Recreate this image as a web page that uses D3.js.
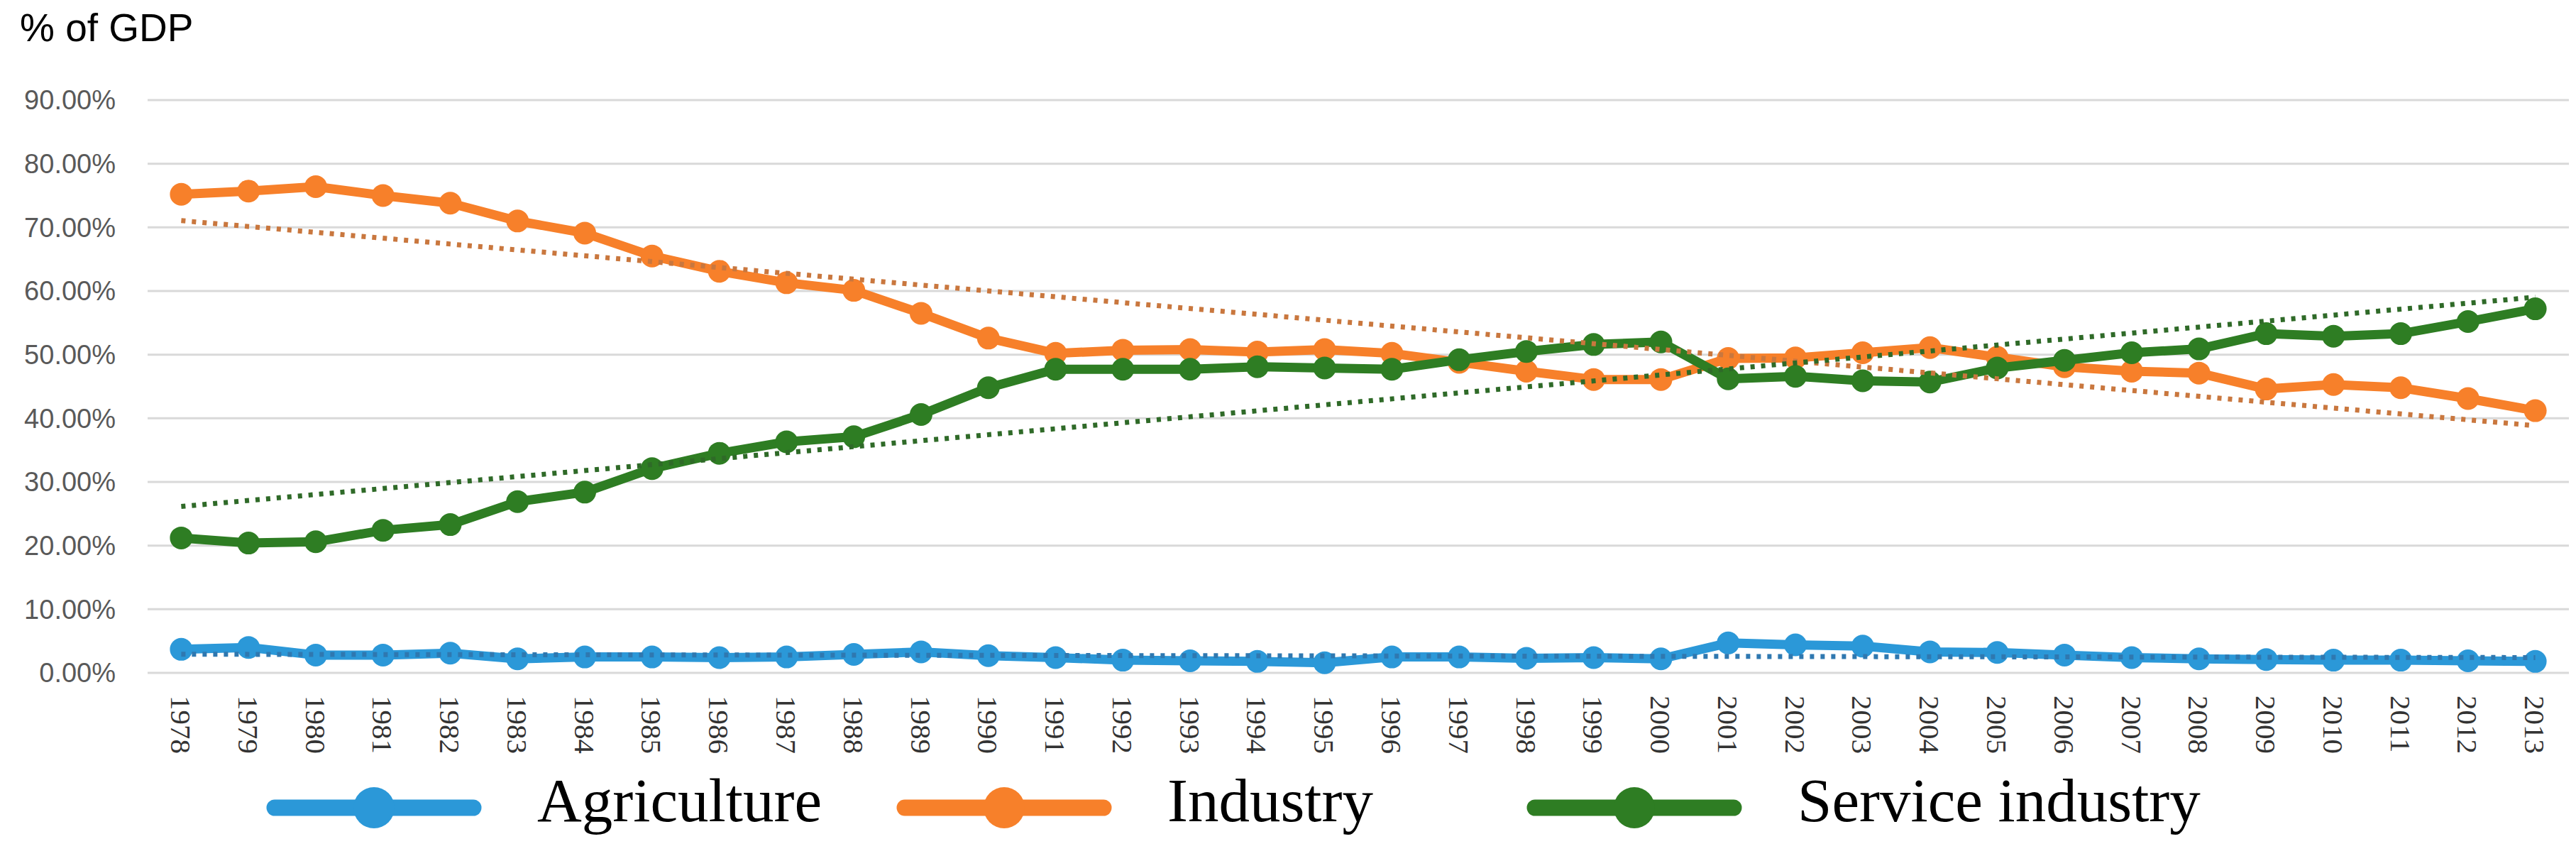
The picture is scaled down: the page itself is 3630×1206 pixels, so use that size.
<!DOCTYPE html>
<html lang="en">
<head>
    <meta charset="UTF-8">
    <title>% of GDP by sector</title>
    <script src="https://d3js.org/d3.v7.min.js"></script>
    <style>
        body { margin: 0; background: #fff; }
        .grid line { stroke: #d9d9d9; stroke-width: 3px; }
        .ylab { font: 38px "Liberation Sans", Arial, sans-serif; fill: #595959; }
        .xlab { font: 41px "Liberation Serif", "Times New Roman", serif; fill: #333; }
        .title { font: 55px "Liberation Sans", Arial, sans-serif; fill: #000; }
        .legend text { font: 87px "Liberation Serif", "Times New Roman", serif; fill: #000; }
    </style>
</head>
<body>
    <svg width="3630" height="1206"></svg>
    <script>
        // years on the x axis
        const years = d3.range(1978, 2014).map(String);

        // share of GDP, in percent
        const agriculture = [3.7, 4.0, 2.8, 2.8, 3.1, 2.2, 2.5, 2.5, 2.4, 2.5, 2.9, 3.3,
            2.7, 2.4, 2.0, 1.9, 1.8, 1.6, 2.5, 2.5, 2.3, 2.4, 2.2, 4.7,
            4.4, 4.2, 3.3, 3.2, 2.8, 2.4, 2.2, 2.1, 2.0, 2.0, 1.9, 1.8];
        const industry = [75.2, 75.7, 76.4, 75.0, 73.8, 71.0, 69.1, 65.5, 63.1, 61.3, 60.1, 56.5,
            52.6, 50.2, 50.7, 50.8, 50.4, 50.8, 50.2, 48.8, 47.4, 46.1, 46.1, 49.4,
            49.5, 50.3, 51.1, 49.6, 48.1, 47.4, 47.1, 44.6, 45.3, 44.8, 43.1, 41.2];
        const service = [21.2, 20.4, 20.6, 22.4, 23.3, 26.9, 28.4, 32.1, 34.5, 36.3, 37.1, 40.6,
            44.8, 47.7, 47.7, 47.7, 48.1, 47.9, 47.7, 49.2, 50.5, 51.6, 52.0, 46.2,
            46.6, 45.9, 45.7, 47.9, 49.1, 50.3, 50.9, 53.3, 52.9, 53.3, 55.2, 57.2];

        const seriesNames = ["Agriculture", "Industry", "Service industry"];
        const seriesColors = ["#2b98d8", "#f7802a", "#2e7d23"];
        const trendColors = ["#2f78b0", "#c9773e", "#2f6a28"];
        const yTicks = [0, 10, 20, 30, 40, 50, 60, 70, 80, 90];

        const series = [agriculture, industry, service];

        const svg = d3.select("svg");

        const x = d3.scalePoint().domain(years).range([208, 3620]).padding(0.5);
        const y = d3.scaleLinear().domain([0, 90]).range([948, 141]);

        // title
        svg.append("text").attr("class", "title")
            .attr("x", 28).attr("y", 58)
            .text("% of GDP");

        // gridlines
        svg.append("g").attr("class", "grid")
            .selectAll("line").data(yTicks).enter().append("line")
            .attr("x1", 208).attr("x2", 3620)
            .attr("y1", d => y(d)).attr("y2", d => y(d));

        // y labels
        svg.append("g").selectAll("text").data(yTicks).enter().append("text")
            .attr("class", "ylab")
            .attr("x", 163).attr("y", d => y(d))
            .attr("dy", "0.35em")
            .attr("text-anchor", "end")
            .text(d => d.toFixed(2) + "%");

        // x labels, turned to read downwards
        svg.append("g").selectAll("text").data(years).enter().append("text")
            .attr("class", "xlab")
            .attr("transform", d => "translate(" + x(d) + ",980) rotate(90)")
            .attr("dy", "0.35em")
            .text(d => d);

        const line = d3.line()
            .x((d, i) => x(years[i]))
            .y(d => y(d));

        // series lines with markers
        series.forEach(function(vals, k) {
            const g = svg.append("g");
            g.append("path")
                .attr("d", line(vals))
                .attr("fill", "none")
                .attr("stroke", seriesColors[k])
                .attr("stroke-width", 13)
                .attr("stroke-linejoin", "round");
            g.selectAll("circle").data(vals).enter().append("circle")
                .attr("cx", (d, i) => x(years[i]))
                .attr("cy", d => y(d))
                .attr("r", 16)
                .attr("fill", seriesColors[k]);
        });

        // linear trend lines (least squares, like the spreadsheet does)
        function fit(vals) {
            const n = vals.length;
            const mx = (n - 1) / 2;
            const my = d3.mean(vals);
            let sxy = 0, sxx = 0;
            vals.forEach(function(v, i) {
                sxy += (i - mx) * (v - my);
                sxx += (i - mx) * (i - mx);
            });
            const b = sxy / sxx;
            return [my - b * mx, my + b * (n - 1 - mx)];
        }

        series.forEach(function(vals, k) {
            const ends = fit(vals);
            svg.append("line")
                .attr("x1", x(years[0])).attr("y1", y(ends[0]))
                .attr("x2", x(years[years.length - 1])).attr("y2", y(ends[1]))
                .attr("stroke", trendColors[k])
                .attr("stroke-width", 7)
                .attr("stroke-dasharray", "6,9");
        });

        // legend
        const legend = svg.append("g").attr("class", "legend");
        seriesNames.forEach(function(name, k) {
            const x0 = 377 + k * 888;
            const g = legend.append("g");
            g.append("line")
                .attr("x1", x0 + 10).attr("x2", x0 + 290)
                .attr("y1", 1138).attr("y2", 1138)
                .attr("stroke", seriesColors[k])
                .attr("stroke-width", 23)
                .attr("stroke-linecap", "round");
            g.append("circle")
                .attr("cx", x0 + 150).attr("cy", 1138)
                .attr("r", 29)
                .attr("fill", seriesColors[k]);
            g.append("text")
                .attr("x", x0 + 380).attr("y", 1157)
                .text(name);
        });
    </script>
</body>
</html>
